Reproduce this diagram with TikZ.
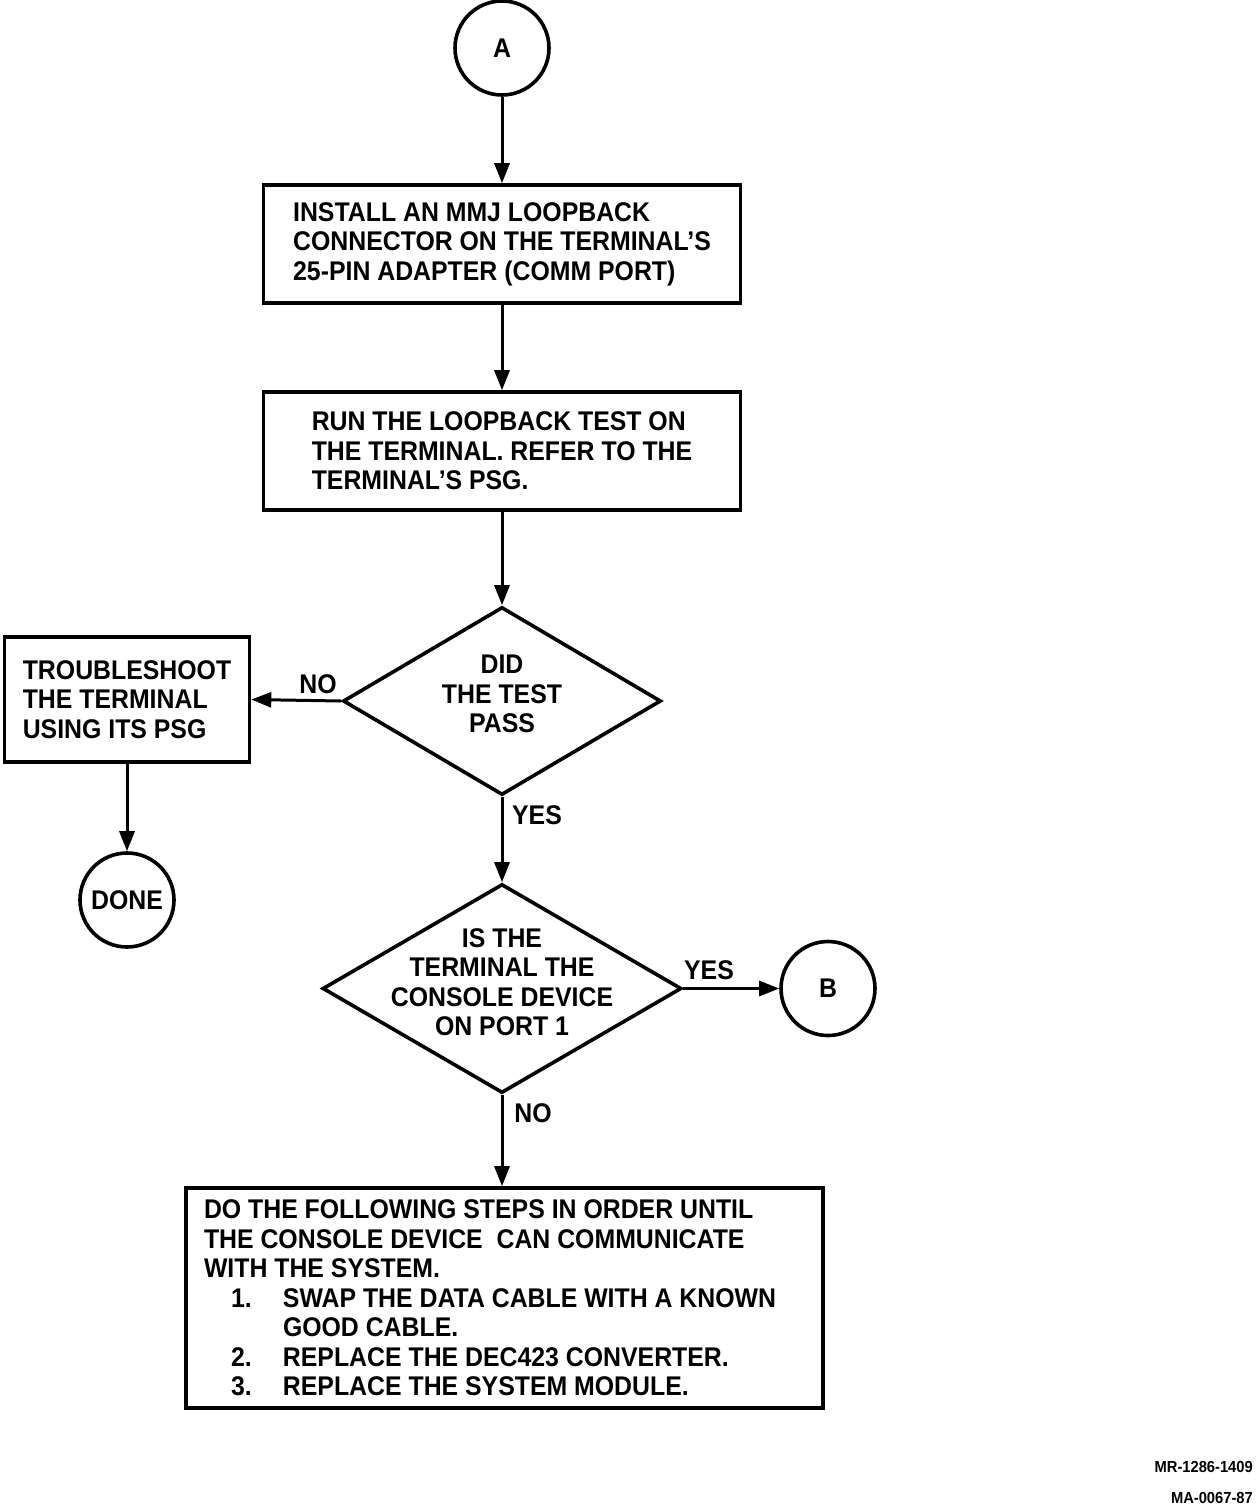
\documentclass[tikz,border=0pt]{standalone}
\usepackage{fontspec}
\setmainfont{Liberation Sans}[FakeStretch=0.92]
\usetikzlibrary{shapes.geometric,arrows.meta}
\begin{document}
\begin{tikzpicture}[x=1pt,y=-1pt,
  every node/.style={font=\fontsize{27}{29.5}\selectfont\bfseries},
  box/.style={draw,line width=3.6pt,align=left,inner sep=0pt},
  conn/.style={draw,line width=3.6pt,minimum size=94pt,inner sep=0pt,circle},
  dec/.style={draw,diamond,line width=3.6pt,inner sep=0pt},
  dtext/.style={align=center,inner sep=0pt},
  arr/.style={line width=3pt,-{Triangle[length=20pt,width=15pt]}},
  lbl/.style={inner sep=0pt}]
\useasboundingbox (0,0) rectangle (1255,1509);
\node[conn] (A) at (502,48) {A};
\node[box,minimum width=477pt,minimum height=118pt] (b1) at (502,244)
  {INSTALL AN MMJ LOOPBACK\\CONNECTOR ON THE TERMINAL'S\\25-PIN ADAPTER (COMM PORT)};
\node[box,minimum width=477pt,minimum height=118pt] (b2) at (502,451)
  {RUN THE LOOPBACK TEST ON\\THE TERMINAL. REFER TO THE\\TERMINAL'S PSG.};
\node[dec,minimum width=318pt,minimum height=188pt] (d1) at (502,701) {};
\node[dtext] (t1) at (502,694) {DID\\THE TEST\\PASS};
\node[box,minimum width=245pt,minimum height=125pt] (b3) at (127,699.5)
  {TROUBLESHOOT\\THE TERMINAL\\USING ITS PSG};
\node[conn] (done) at (127,900) {DONE};
\node[dec,minimum width=359pt,minimum height=209pt] (d2) at (502,988.5) {};
\node[dtext] (t2) at (502,982) {IS THE\\TERMINAL THE\\CONSOLE DEVICE\\ON PORT 1};
\node[conn] (B) at (828,988.5) {B};
\node[box,minimum width=637pt,minimum height=220pt,text width=601pt,align=flush left] (b4) at (504.5,1298)
  {DO THE FOLLOWING STEPS IN ORDER UNTIL\\
   THE CONSOLE DEVICE\ \ CAN COMMUNICATE\\
   WITH THE SYSTEM.\\
   \hspace*{27pt}\makebox[52pt][l]{1.}SWAP THE DATA CABLE WITH A KNOWN\\
   \hspace*{79pt}GOOD CABLE.\\
   \hspace*{27pt}\makebox[52pt][l]{2.}REPLACE THE DEC423 CONVERTER.\\
   \hspace*{27pt}\makebox[52pt][l]{3.}REPLACE THE SYSTEM MODULE.};
\draw[arr] (A) -- (b1);
\draw[arr] (b1) -- (b2);
\draw[arr] (b2) -- (d1.north);
\draw[arr] (d1.west) -- (b3.east);
\draw[arr] (b3) -- (done);
\draw[arr] (d1.south) -- (d2.north);
\draw[arr] (d2.east) -- (B.west);
\draw[arr] (d2.south) -- (d2.south |- b4.north);
\node[lbl] (lno1) at (318,684) {NO};
\node[lbl] (lyes1) at (537,815) {YES};
\node[lbl] (lyes2) at (709,970) {YES};
\node[lbl] (lno2) at (533,1113) {NO};
\node[lbl,anchor=east,font=\fontsize{16}{18}\selectfont\bfseries] (mr) at (1253,1467) {MR-1286-1409};
\node[lbl,anchor=east,font=\fontsize{16}{18}\selectfont\bfseries] (ma) at (1253,1498) {MA-0067-87};
\end{tikzpicture}
\end{document}
